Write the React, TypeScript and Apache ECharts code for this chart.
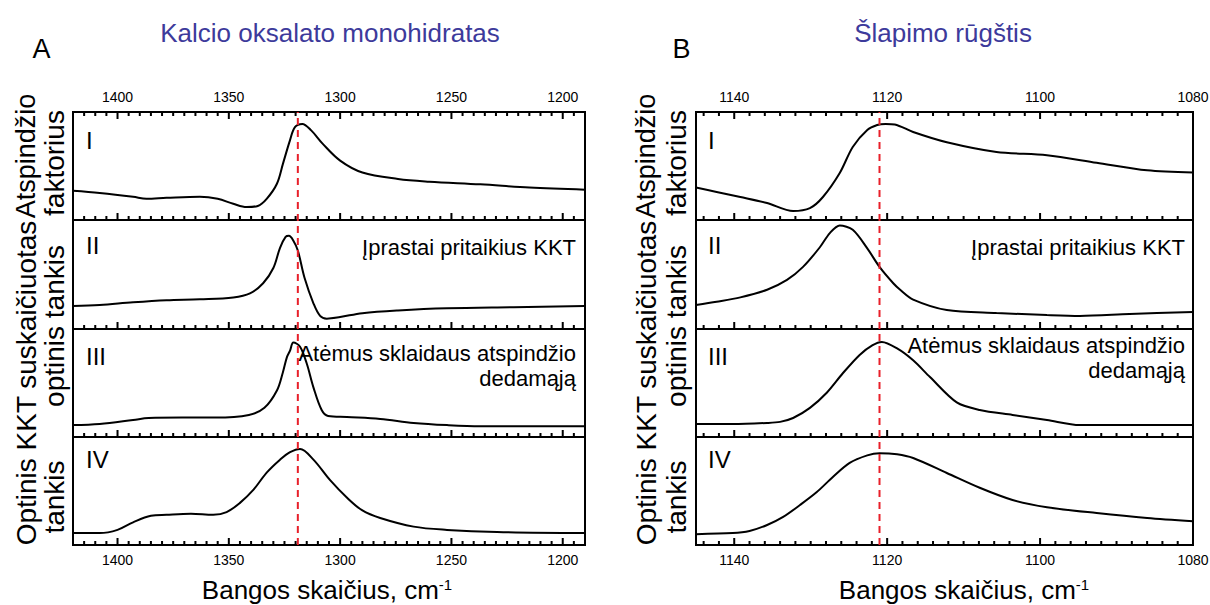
import React, { useEffect, useRef } from "react";
import * as echarts from "echarts";

// ---------- Panel A: Kalcio oksalato monohidratas ----------
const rangeA = [1190, 1420];
const majorTicksA = [1200, 1250, 1300, 1350, 1400];
const minorStepA = 5;
const peakA = 1319;

// I — reflectance factor
const comReflectance = [
  [1420, 0.27], [1408, 0.25], [1393, 0.215], [1387, 0.196], [1378, 0.205],
  [1363, 0.215], [1355, 0.196], [1348, 0.15], [1342, 0.12], [1337, 0.13],
  [1333, 0.196], [1328.4, 0.336], [1325.7, 0.52], [1322.5, 0.74], [1320.3, 0.86],
  [1317, 0.89], [1313, 0.83], [1308, 0.71], [1300, 0.55], [1290, 0.44],
  [1274, 0.38], [1260, 0.355], [1237, 0.33], [1215, 0.3], [1190, 0.28],
];
// II — conventional Kramers–Kronig absorbance
const comConventionalKK = [
  [1420, 0.21], [1408, 0.22], [1393, 0.245], [1378, 0.264], [1363, 0.273],
  [1348, 0.29], [1340.5, 0.327], [1334.6, 0.42], [1330, 0.56], [1327, 0.745],
  [1324.5, 0.845], [1323, 0.855], [1321, 0.81], [1319, 0.72], [1316, 0.47],
  [1312, 0.236], [1309, 0.12], [1306, 0.095], [1300, 0.11], [1290, 0.145], [1274, 0.17],
  [1252, 0.19], [1222, 0.2], [1190, 0.21],
];
// III — KK absorbance after removing diffuse reflection
const comCorrectedKK = [
  [1420, 0.11], [1408, 0.12], [1393, 0.157], [1386, 0.176], [1371, 0.18],
  [1356, 0.18], [1341, 0.204], [1334, 0.27], [1328.4, 0.43], [1325.7, 0.6],
  [1323.9, 0.74], [1322.5, 0.8], [1321, 0.875], [1318, 0.836], [1315, 0.68],
  [1312, 0.46], [1308.3, 0.25], [1305.4, 0.195], [1297, 0.185], [1282, 0.167],
  [1267, 0.13], [1252, 0.11], [1237, 0.1], [1190, 0.1],
];
// IV — absorbance
const comAbsorbance = [
  [1420, 0.11], [1408, 0.11], [1400, 0.14], [1393, 0.21], [1385, 0.27],
  [1378, 0.28], [1367, 0.29], [1357, 0.28], [1351, 0.305], [1345, 0.39],
  [1339, 0.51], [1333, 0.67], [1327, 0.79], [1322.5, 0.86], [1318, 0.89],
  [1312, 0.79], [1304.5, 0.6], [1297, 0.44], [1290, 0.32], [1282, 0.25],
  [1267, 0.17], [1252, 0.14], [1229.5, 0.12], [1190, 0.11],
];

// ---------- Panel B: Šlapimo rūgštis ----------
const rangeB = [1080, 1145];
const majorTicksB = [1080, 1100, 1120, 1140];
const minorStepB = 2;
const peakB = 1121;

const uaReflectance = [
  [1145, 0.3], [1142.3, 0.26], [1139.2, 0.213], [1135.7, 0.157], [1132.3, 0.083],
  [1130.1, 0.11], [1128.4, 0.213], [1126.2, 0.435], [1124.5, 0.676], [1122.6, 0.833],
  [1121.3, 0.88], [1120.2, 0.89], [1119, 0.885], [1116.6, 0.815], [1112.2, 0.72],
  [1105.7, 0.63], [1099.1, 0.6], [1092.6, 0.53], [1086, 0.46], [1080, 0.44],
];
const uaConventionalKK = [
  [1145, 0.22], [1142.3, 0.25], [1139.2, 0.29], [1135.7, 0.36], [1133.1, 0.45],
  [1131, 0.57], [1128.8, 0.75], [1127.5, 0.88], [1126.2, 0.95], [1124.5, 0.91],
  [1122.6, 0.74], [1121, 0.57], [1119.2, 0.42], [1118.3, 0.36], [1116.6, 0.27],
  [1112.2, 0.174], [1105.7, 0.147], [1099.1, 0.128], [1094.8, 0.12], [1088.3, 0.138],
  [1080, 0.156],
];
const uaCorrectedKK = [
  [1145, 0.12], [1140.2, 0.12], [1135.7, 0.13], [1134, 0.14], [1132.3, 0.176],
  [1130.1, 0.27], [1127.9, 0.41], [1125.8, 0.59], [1123.6, 0.76], [1121.9, 0.85],
  [1120.7, 0.88], [1118.7, 0.82], [1116.6, 0.71], [1114.4, 0.555], [1110.9, 0.32],
  [1107.9, 0.25], [1103.6, 0.204], [1099.1, 0.157], [1094.8, 0.11], [1080, 0.11],
];
const uaAbsorbance = [
  [1145, 0.1], [1140.2, 0.11], [1138, 0.13], [1135.7, 0.185], [1133.6, 0.26],
  [1131.4, 0.37], [1129.2, 0.49], [1127.1, 0.63], [1124.9, 0.76], [1122.6, 0.83],
  [1121, 0.85], [1118.7, 0.84], [1116.6, 0.805], [1112.2, 0.667], [1107.9, 0.53],
  [1103.6, 0.417], [1099.1, 0.35], [1092.6, 0.296], [1086, 0.25], [1080, 0.22],
];

// ---------- Texts ----------
const panelLetters = ["A", "B"];
const panelTitles = ["Kalcio oksalato monohidratas", "Šlapimo rūgštis"];
const rowNumerals = ["I", "II", "III", "IV"];
const noteConventional = "Įprastai pritaikius KKT";
const noteCorrected = ["Atėmus sklaidaus atspindžio", "dedamąją"];
const xAxisTitle = "Bangos skaičius, cm";
const xAxisTitleSup = "-1";

const FONT = '"Liberation Sans", Arial, Helvetica, sans-serif';
const TITLE_COLOR = "#3d3a9b";

// Row geometry shared by both panels
const ROWS = [
  { top: 112, height: 108 },
  { top: 220, height: 109 },
  { top: 329, height: 108 },
  { top: 437, height: 108 },
];
const PLOT_TOP = 112;
const PLOT_BOTTOM = 545;
const MAJOR_LEN = 7; // px
const MINOR_LEN = 4; // px

type PanelCfg = {
  left: number;
  width: number;
  range: number[];
  majors: number[];
  minorStep: number;
  peak: number;
  curves: number[][][];
  smooth: number;
};

// Inward frame ticks as short broken segments in the row's own data space.
// A '-' y value breaks the polyline between consecutive ticks.
function tickSegments(p: PanelCfg, rowHeight: number, withTop: boolean) {
  const out: any[] = [];
  const [lo, hi] = p.range;
  const first = Math.ceil(lo / p.minorStep) * p.minorStep;
  for (let v = first; v <= hi + 1e-9; v += p.minorStep) {
    if (v <= lo || v >= hi) continue;
    const len = (p.majors.indexOf(v) >= 0 ? MAJOR_LEN : MINOR_LEN) / rowHeight;
    out.push([v, 0], [v, len], [v, "-"]);
    if (withTop) out.push([v, 1], [v, 1 - len], [v, "-"]);
  }
  return out;
}

function buildOption() {
  const grids: any[] = [];
  const xAxes: any[] = [];
  const yAxes: any[] = [];
  const series: any[] = [];

  const addGrid = (rect: any, xAxis: any, gridExtra: any = {}) => {
    const gridIndex = grids.length;
    grids.push({ ...rect, show: false, outerBoundsMode: "none", containLabel: false, ...gridExtra });
    const xi = xAxes.length;
    xAxes.push({ ...xAxis, gridIndex });
    const yi = yAxes.length;
    yAxes.push({ type: "value", gridIndex, min: 0, max: 1, show: false });
    return { xi, yi };
  };

  const addPanel = (p: PanelCfg) => {
    const base = {
      type: "value",
      min: p.range[0],
      max: p.range[1],
      inverse: true,
      axisLine: { show: false, onZero: false },
      axisTick: { show: false },
      splitLine: { show: false },
    };
    const labelled = (pos: string, show: boolean) => ({
      ...base,
      position: pos,
      axisLabel: {
        show,
        customValues: p.majors,
        color: "#000",
        fontSize: 14,
        fontFamily: FONT,
        margin: 8,
        formatter: (v: number) => String(v),
      },
    });

    ROWS.forEach((row, i) => {
      const rect = { left: p.left, top: row.top, width: p.width, height: row.height };
      const { xi, yi } = addGrid(rect, labelled("bottom", i === 3), {
        show: true,
        borderColor: "#000",
        borderWidth: 2,
        backgroundColor: "transparent",
      });
      if (i === 0) addGrid(rect, labelled("top", true));

      series.push({
        type: "line",
        xAxisIndex: xi,
        yAxisIndex: yi,
        data: p.curves[i],
        smooth: p.smooth,
        showSymbol: false,
        silent: true,
        lineStyle: { color: "#000", width: 2 },
        z: 3,
      });
      series.push({
        type: "line",
        xAxisIndex: xi,
        yAxisIndex: yi,
        data: tickSegments(p, row.height, i === 0),
        connectNulls: false,
        showSymbol: false,
        silent: true,
        lineStyle: { color: "#000", width: 2 },
        z: 3,
      });
    });

    // full-height overlay for the peak marker
    const { xi, yi } = addGrid(
      { left: p.left, top: PLOT_TOP, width: p.width, height: PLOT_BOTTOM - PLOT_TOP },
      { ...base, show: false }
    );
    series.push({
      type: "line",
      xAxisIndex: xi,
      yAxisIndex: yi,
      data: [
        [p.peak, 0],
        [p.peak, 1],
      ],
      showSymbol: false,
      silent: true,
      lineStyle: { color: "#e8202a", width: 2, type: [7, 5] },
      z: 4,
    });
  };

  addPanel({
    left: 73,
    width: 512,
    range: rangeA,
    majors: majorTicksA,
    minorStep: minorStepA,
    peak: peakA,
    curves: [comReflectance, comConventionalKK, comCorrectedKK, comAbsorbance],
    smooth: 0.35,
  });
  addPanel({
    left: 696,
    width: 497,
    range: rangeB,
    majors: majorTicksB,
    minorStep: minorStepB,
    peak: peakB,
    curves: [uaReflectance, uaConventionalKK, uaCorrectedKK, uaAbsorbance],
    smooth: 0.3,
  });

  // ---------- annotations ----------
  const txt = (
    text: string,
    x: number,
    y: number,
    size: number,
    align = "left",
    extra: any = {}
  ) => ({
    type: "text",
    x,
    y,
    z: 10,
    silent: true,
    ...extra,
    style: {
      text,
      fill: extra.fill || "#000",
      fontSize: size,
      fontFamily: FONT,
      align,
      verticalAlign: "middle",
    },
  });
  const vtxt = (text: string, x: number, y: number, size: number) =>
    txt(text, x, y, size, "center", { rotation: Math.PI / 2 });

  const graphics: any[] = [];
  const panelsText = [
    {
      letterX: 41.5, titleX: 330, numX: 86, noteRight: 576,
      col1: 26, col2: 54, axisX: 327, noteY: [247, 353, 378],
    },
    {
      letterX: 681.5, titleX: 943, numX: 708, noteRight: 1185,
      col1: 646, col2: 676, axisX: 964, noteY: [247, 345, 370],
    },
  ];
  const numeralY = [140, 245, 356, 459];
  panelsText.forEach((t, k) => {
    graphics.push(txt(panelLetters[k], t.letterX, 49, 27, "center"));
    graphics.push(
      txt(panelTitles[k], t.titleX, 33, 26, "center", { fill: TITLE_COLOR })
    );
    rowNumerals.forEach((n, i) => graphics.push(txt(n, t.numX, numeralY[i], 24)));
    graphics.push(txt(noteConventional, t.noteRight, t.noteY[0], 22, "right"));
    graphics.push(txt(noteCorrected[0], t.noteRight, t.noteY[1], 22, "right"));
    graphics.push(txt(noteCorrected[1], t.noteRight, t.noteY[2], 22, "right"));
    // rotated axis titles
    graphics.push(vtxt("Atspindžio", t.col1, 156, 27));
    graphics.push(vtxt("Optinis KKT suskaičiuotas", t.col1, 383, 28));
    graphics.push(vtxt("faktorius", t.col2, 163, 28));
    graphics.push(vtxt("optinis tankis", t.col2, 326, 28));
    graphics.push(vtxt("tankis", t.col2, 497, 28));
    // x-axis title with superscript
    graphics.push({
      type: "text",
      x: t.axisX,
      y: 590,
      z: 10,
      silent: true,
      style: {
        text: `{m|${xAxisTitle}}{s|${xAxisTitleSup}}`,
        align: "center",
        verticalAlign: "middle",
        fill: "#000",
        rich: {
          m: { fontSize: 26, fontFamily: FONT, lineHeight: 26, fill: "#000" },
          s: { fontSize: 15, fontFamily: FONT, lineHeight: 14, verticalAlign: "top", fill: "#000" },
        },
      },
    });
  });

  return {
    animation: false,
    backgroundColor: "#fff",
    grid: grids,
    xAxis: xAxes,
    yAxis: yAxes,
    series,
    graphic: graphics,
  };
}

export default function App() {
  const ref = useRef<HTMLDivElement>(null);
  useEffect(() => {
    if (!ref.current) return;
    const chart = echarts.init(ref.current, undefined, { renderer: "svg" });
    chart.setOption(buildOption() as any);
    return () => chart.dispose();
  }, []);
  return (
    <div
      ref={ref}
      style={{ position: "absolute", left: 0, top: 0, width: 1210, height: 605, background: "#fff" }}
    />
  );
}
